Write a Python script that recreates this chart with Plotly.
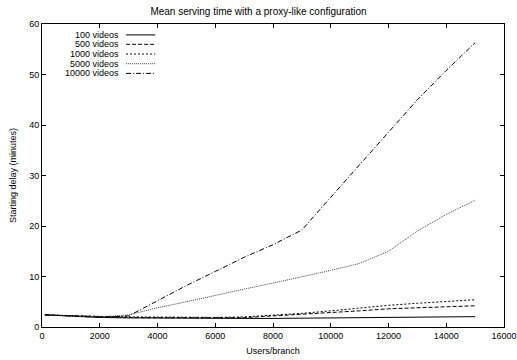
import plotly.graph_objects as go

users = [100, 1000, 2000, 3000, 4000, 5000, 6000, 7000, 8000, 9000, 10000, 11000, 12000, 13000, 14000, 15000]
v100 = [2.4, 2.1, 1.9, 1.8, 1.75, 1.7, 1.7, 1.7, 1.7, 1.75, 1.8, 1.85, 1.9, 1.95, 2.0, 2.05]
v500 = [2.4, 2.2, 2.0, 1.9, 1.85, 1.8, 1.8, 1.85, 2.2, 2.5, 2.9, 3.2, 3.6, 3.8, 4.0, 4.2]
v1000 = [2.4, 2.2, 2.1, 2.0, 1.95, 1.9, 1.9, 2.0, 2.3, 2.7, 3.2, 3.8, 4.3, 4.7, 5.0, 5.4]
v5000 = [2.4, 2.2, 2.0, 2.4, 3.8, 5.0, 6.3, 7.5, 8.7, 9.9, 11.2, 12.6, 15.0, 19.0, 22.3, 25.1]
v10000 = [2.4, 2.1, 1.9, 2.2, 5.2, 8.2, 11.0, 13.8, 16.3, 19.2, 25.7, 32.1, 38.6, 45.0, 50.8, 56.3]

series_names = ["100 videos", "500 videos", "1000 videos", "5000 videos", "10000 videos"]
series_vals = [v100, v500, v1000, v5000, v10000]
dashes = ["solid", "4px,2px", "2px,2px", "1px,1px", "5px,2px,1px,2px"]
colors = ["black", "black", "black", "#444444", "black"]

x_ticks = [0, 2000, 4000, 6000, 8000, 10000, 12000, 14000, 16000]
y_ticks = [0, 10, 20, 30, 40, 50, 60]

fig = go.Figure()
for name, vals, d, c in zip(series_names, series_vals, dashes, colors):
    fig.add_trace(go.Scatter(x=users, y=vals, mode="lines", name=name,
                             line=dict(color=c, width=1, dash=d), showlegend=False))

# gnuplot-style legend (text right-aligned, sample to the right)
row_y = [0.964, 0.933, 0.901, 0.869, 0.837]
for name, ry, d, c in zip(series_names, row_y, dashes, colors):
    fig.add_annotation(x=0.171, y=ry, xref="paper", yref="paper", text=name,
                       showarrow=False, xanchor="right", yanchor="middle",
                       font=dict(size=9, color="black"))
    fig.add_shape(type="line", xref="paper", yref="paper", x0=0.182, x1=0.245,
                  y0=ry, y1=ry, line=dict(color=c, width=1, dash=d))

axis_common = dict(showline=True, linecolor="black", linewidth=1, mirror="ticks",
                   ticks="inside", ticklen=4, tickcolor="black", showgrid=False,
                   zeroline=False, automargin=False, tickfont=dict(size=9, color="black"))

fig.update_layout(
    width=517, height=360,
    margin=dict(l=42, r=13, t=24, b=33),
    paper_bgcolor="white", plot_bgcolor="white",
    font=dict(family="Liberation Sans, Arial, sans-serif", size=9, color="black"),
    title=dict(text="Mean serving time with a proxy-like configuration", x=0.5, xanchor="center",
               y=0.969, yanchor="middle", font=dict(size=10)),
    xaxis=dict(range=[0, 16000], tickvals=x_ticks, ticktext=[str(t) for t in x_ticks],
               title=dict(text="Users/branch", standoff=7, font=dict(size=9)), **axis_common),
    yaxis=dict(range=[0, 60], tickvals=y_ticks, ticktext=[str(t) for t in y_ticks],
               title=dict(text="Starting delay (minutes)", standoff=11, font=dict(size=9)), **axis_common),
)

fig.write_html("out.html")
